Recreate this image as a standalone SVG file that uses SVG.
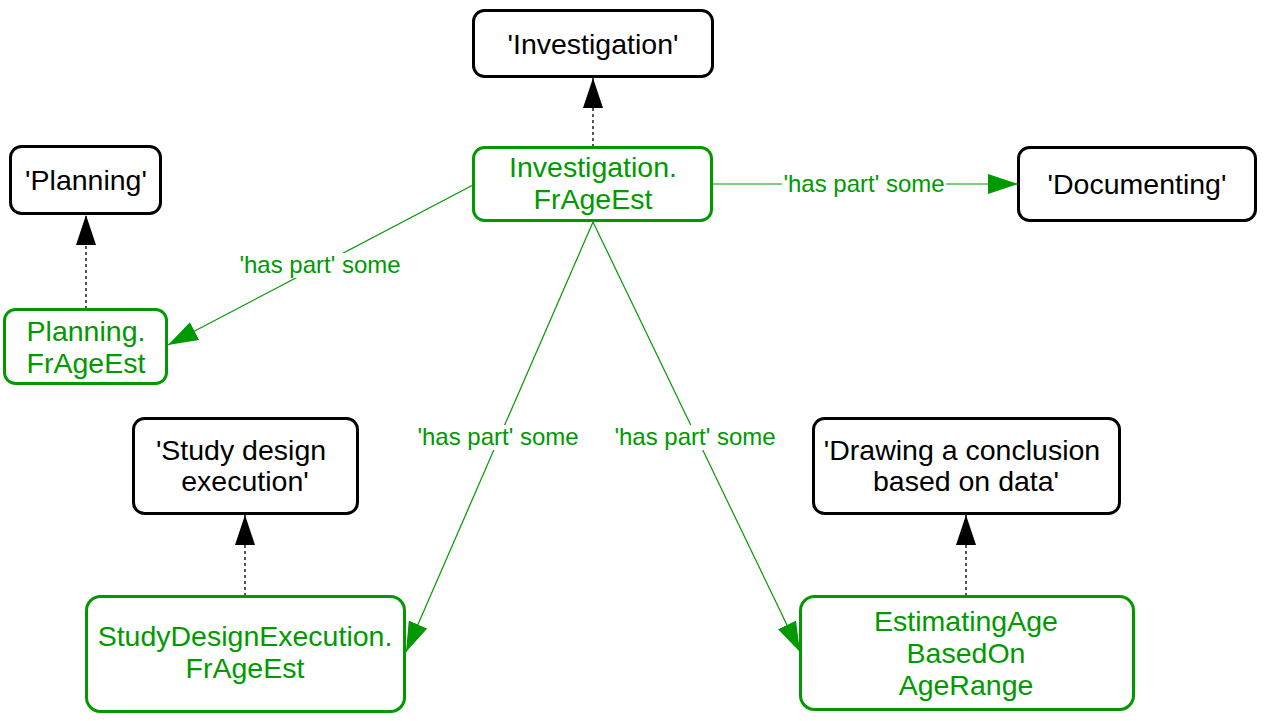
<svg xmlns="http://www.w3.org/2000/svg" width="1265" height="721" viewBox="0 0 1265 721">
<defs>
<style>
.box{fill:#fff;stroke:#000;stroke-width:3}
.gbox{fill:#fff;stroke:#009900;stroke-width:3}
.t{font-family:"Liberation Sans",Arial,sans-serif;font-size:28.5px;text-anchor:middle;fill:#000}
.gt{font-family:"Liberation Sans",Arial,sans-serif;font-size:28.5px;text-anchor:middle;fill:#009900}
.lbl{font-family:"Liberation Sans",Arial,sans-serif;font-size:24px;text-anchor:middle;fill:#009900}
.dot{fill:none;stroke:#555;stroke-width:2;stroke-dasharray:3 3}
.edge{fill:none;stroke:#009900;stroke-width:1.2}
</style>
<marker id="ab" viewBox="0 0 30 20" refX="30" refY="10" markerWidth="30" markerHeight="20" markerUnits="userSpaceOnUse" orient="auto"><path d="M0,0 L30,10 L0,20 z" fill="#000"/></marker>
<marker id="ag" viewBox="0 0 30 20" refX="30" refY="10" markerWidth="30" markerHeight="20" markerUnits="userSpaceOnUse" orient="auto"><path d="M0,0 L30,10 L0,20 z" fill="#009900"/></marker>
</defs>
<rect width="1265" height="721" fill="#fff"/>
<g id="connectors">
<line class="dot" x1="593" y1="147" x2="593" y2="78" marker-end="url(#ab)"/>
<line class="dot" x1="86" y1="309" x2="86" y2="215" marker-end="url(#ab)"/>
<line class="dot" x1="245" y1="596" x2="245" y2="515" marker-end="url(#ab)"/>
<line class="dot" x1="966" y1="596" x2="966" y2="515" marker-end="url(#ab)"/>
<line class="edge" x1="713" y1="184" x2="1018" y2="184" marker-end="url(#ag)"/>
<line class="edge" x1="473" y1="185" x2="168" y2="345" marker-end="url(#ag)"/>
<line class="edge" x1="593" y1="222" x2="406" y2="652" marker-end="url(#ag)"/>
<line class="edge" x1="593" y1="222" x2="800" y2="652" marker-end="url(#ag)"/>
<rect x="782" y="172" width="164" height="25" fill="#fff"/>
<text class="lbl" x="864" y="192">'has part' some</text>
<rect x="239" y="253" width="162" height="25" fill="#fff"/>
<text class="lbl" x="320" y="273">'has part' some</text>
<rect x="416" y="425" width="164" height="25" fill="#fff"/>
<text class="lbl" x="498" y="445">'has part' some</text>
<rect x="613" y="425" width="164" height="25" fill="#fff"/>
<text class="lbl" x="695" y="445">'has part' some</text>
</g>
<g id="investigation">
<rect class="box" x="473.5" y="10.5" width="239" height="66" rx="11"/>
<text class="t" x="593" y="54">'Investigation'</text>
</g>
<g id="investigation-frageest">
<rect class="gbox" x="473.5" y="147.5" width="238" height="73" rx="11"/>
<text class="gt" x="593" y="177">Investigation.</text>
<text class="gt" x="593" y="209">FrAgeEst</text>
</g>
<g id="planning">
<rect class="box" x="10.5" y="146.5" width="150" height="67" rx="11"/>
<text class="t" x="86" y="190">'Planning'</text>
</g>
<g id="planning-frageest">
<rect class="gbox" x="4.5" y="309.5" width="162" height="74" rx="11"/>
<text class="gt" x="86" y="341">Planning.</text>
<text class="gt" x="86" y="373">FrAgeEst</text>
</g>
<g id="documenting">
<rect class="box" x="1018.5" y="147.5" width="237" height="73" rx="11"/>
<text class="t" x="1137" y="194">'Documenting'</text>
</g>
<g id="study-design-execution">
<rect class="box" x="133.5" y="418.5" width="224" height="95" rx="11"/>
<text class="t" x="241" y="460">'Study design</text>
<text class="t" x="245" y="491">execution'</text>
</g>
<g id="sde-frageest">
<rect class="gbox" x="86.5" y="596.5" width="318" height="115" rx="14"/>
<text class="gt" x="245" y="646">StudyDesignExecution.</text>
<text class="gt" x="245" y="678">FrAgeEst</text>
</g>
<g id="drawing-conclusion">
<rect class="box" x="813.5" y="418.5" width="306" height="95" rx="11"/>
<text class="t" x="962" y="460">'Drawing a conclusion</text>
<text class="t" x="966" y="491">based on data'</text>
</g>
<g id="estimating-age">
<rect class="gbox" x="800.5" y="596.5" width="333" height="113" rx="14"/>
<text class="gt" x="966" y="631">EstimatingAge</text>
<text class="gt" x="966" y="663">BasedOn</text>
<text class="gt" x="966" y="695">AgeRange</text>
</g>
</svg>
